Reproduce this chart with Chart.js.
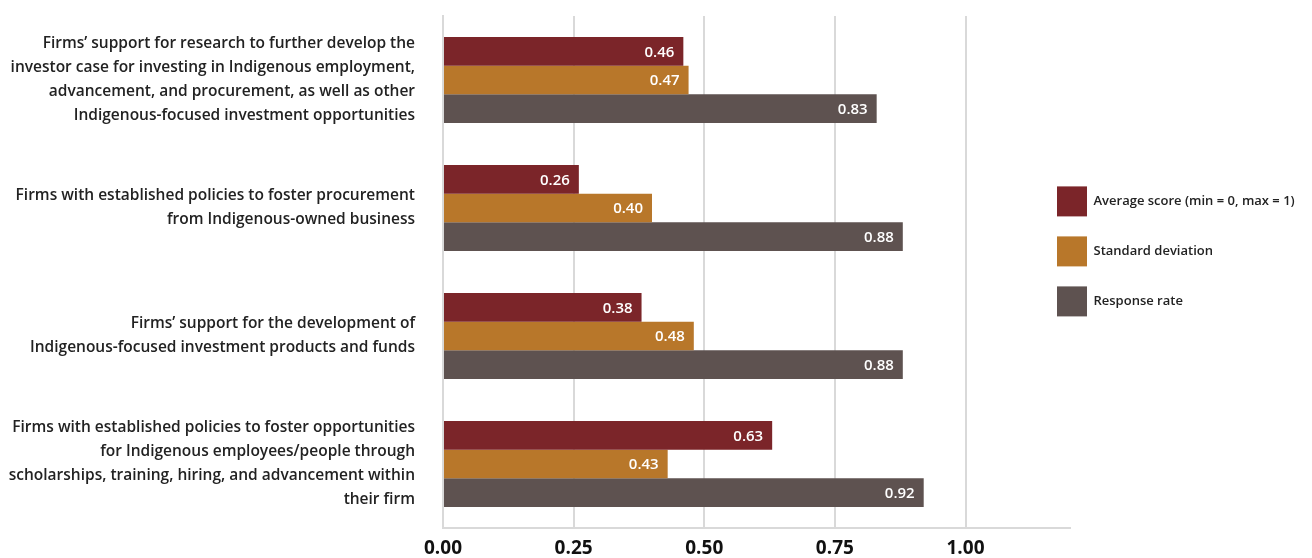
<!DOCTYPE html>
<html>
<head>
<meta charset="utf-8">
<script src="https://cdn.jsdelivr.net/npm/chart.js@4"></script>
<style>
  html, body { margin: 0; padding: 0; background: #fff; }
  #wrap { width: 1312px; height: 558px; position: relative; }
</style>
</head>
<body>
<div id="wrap"><canvas id="barChart"></canvas></div>
<script>
// data
const categories = [
  ['Firms’ support for research to further develop the',
   'investor case for investing in Indigenous employment,',
   'advancement, and procurement, as well as other',
   'Indigenous-focused investment opportunities'],
  ['Firms with established policies to foster procurement',
   'from Indigenous-owned business'],
  ['Firms’ support for the development of',
   'Indigenous-focused investment products and funds'],
  ['Firms with established policies to foster opportunities',
   'for Indigenous employees/people through',
   'scholarships, training, hiring, and advancement within',
   'their firm']
];
const averageScore = [0.46, 0.26, 0.38, 0.63];
const standardDeviation = [0.47, 0.40, 0.48, 0.43];
const responseRate = [0.83, 0.88, 0.88, 0.92];
const seriesNames = ['Average score (min = 0, max = 1)', 'Standard deviation', 'Response rate'];
const xTicks = [0, 0.25, 0.5, 0.75, 1.0];

const FONT = '"Open Sans", "DejaVu Sans", sans-serif';

// value labels inside the bar ends
const barValues = {
  id: 'barValues',
  afterDatasetsDraw(chart) {
    const ctx = chart.ctx;
    ctx.save();
    ctx.fillStyle = '#ffffff';
    ctx.font = '600 15px ' + FONT;
    ctx.textAlign = 'right';
    ctx.textBaseline = 'middle';
    chart.data.datasets.forEach((ds, i) => {
      const meta = chart.getDatasetMeta(i);
      meta.data.forEach((bar, j) => {
        ctx.fillText(ds.data[j].toFixed(2), bar.x - 9, bar.y + 1);
      });
    });
    ctx.restore();
  }
};

// legend sits partly over the plot's right margin, like the original
const legendShift = {
  id: 'legendShift',
  beforeLayout(chart) {
    const lg = chart.legend;
    if (lg && !lg._patched) {
      const fit = lg.fit;
      lg.fit = function () {
        fit.call(this);
        this.width = 242;
      };
      lg._patched = true;
    }
  },
  afterLayout(chart) {
    const lg = chart.legend;
    if (lg) {
      lg.left -= 33;
    }
  }
};

const ctb = document.getElementById('barChart');

new Chart(ctb, {
  type: 'bar',
  data: {
    labels: categories,
    datasets: [{
      label: seriesNames[0],
      data: averageScore,
      backgroundColor: '#7B2529'
    }, {
      label: seriesNames[1],
      data: standardDeviation,
      backgroundColor: '#B8772A'
    }, {
      label: seriesNames[2],
      data: responseRate,
      backgroundColor: '#5E5250'
    }]
  },
  options: {
    indexAxis: 'y',
    responsive: true,
    maintainAspectRatio: false,
    animation: false,
    categoryPercentage: 0.67,
    barPercentage: 1.0,
    layout: {
      padding: { top: 16, bottom: 0, left: 0, right: 0 }
    },
    scales: {
      x: {
        min: 0,
        max: 1.2,
        afterBuildTicks(scale) {
          scale.ticks = xTicks.map(v => ({ value: v }));
        },
        afterFit(scale) {
          scale.paddingLeft = 0;
          scale.paddingRight = 0;
          scale.height = 30;
        },
        ticks: {
          color: '#111',
          padding: 9,
          font: { family: FONT, size: 19, weight: '700' },
          callback: v => v.toFixed(2)
        },
        grid: {
          color: '#d9d9d9',
          lineWidth: 2,
          drawTicks: false
        },
        border: { color: '#d9d9d9', width: 2 }
      },
      y: {
        afterFit(scale) {
          scale.width = 443;
          scale.paddingTop = 0;
          scale.paddingBottom = 0;
        },
        ticks: {
          color: '#222',
          padding: 28,
          font: { family: FONT, size: 15.5, weight: '600', lineHeight: 1.55 }
        },
        grid: { display: false, drawTicks: false },
        border: { color: '#d9d9d9', width: 2 }
      }
    },
    plugins: {
      legend: {
        position: 'right',
        align: 'start',
        title: {
          display: true,
          text: '',
          padding: { top: 0, bottom: 136 }
        },
        labels: {
          boxWidth: 30,
          boxHeight: 30,
          padding: 20,
          color: '#222',
          font: { family: FONT, size: 13, weight: '600' }
        }
      },
      tooltip: { enabled: false }
    }
  },
  plugins: [barValues, legendShift]
});
</script>
</body>
</html>
